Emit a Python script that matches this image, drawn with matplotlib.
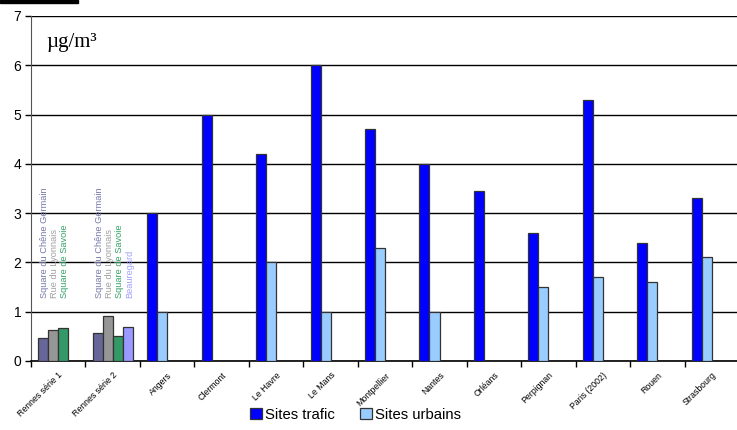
"""Grouped bar chart of mean concentrations, traffic vs urban sites, by city."""

import matplotlib

matplotlib.use("Agg")
import matplotlib.pyplot as plt  # noqa: E402
from matplotlib.patches import Rectangle  # noqa: E402
import numpy as np  # noqa: E402

plt.rcParams["font.family"] = ["Liberation Sans", "DejaVu Sans"]

categories = [
    "Rennes série 1", "Rennes série 2", "Angers", "Clermont", "Le Havre",
    "Le Mans", "Montpellier", "Nantes", "Orléans", "Perpignan",
    "Paris (2002)", "Rouen", "Strasbourg",
]

# Rennes stations (two measurement campaigns)
rennes_sites = ["Square du Chêne Germain", "Rue du Lyonnais",
                "Square de Savoie", "Beauregard"]
rennes_serie1 = [0.47, 0.63, 0.66, None]
rennes_serie2 = [0.56, 0.91, 0.51, 0.69]

# Other cities (first two categories are the Rennes campaigns)
trafic = [None, None, 3.0, 5.0, 4.2, 6.0, 4.7, 4.0, 3.45, 2.6, 5.3, 2.4, 3.3]
urbains = [None, None, 1.0, None, 2.0, 1.0, 2.3, 1.0, None, 1.5, 1.7, 1.6, 2.1]

site_colors = ["#666699", "#969696", "#339966", "#9999FF"]
label_colors = ["#7777AA", "#A0A0A0", "#33A066", "#A0A0FF"]
color_trafic = "#0000FF"
color_urbains = "#99CCFF"

width = 0.184
offsets = (np.arange(4) - 1.5) * width
edge = dict(edgecolor="#333333", linewidth=0.9)

fig = plt.figure(figsize=(7.37, 4.30), dpi=100)
ax = fig.add_axes([0.0421, 0.1605, 0.9607, 0.8023])

x = np.arange(len(categories))

for i, serie in enumerate([rennes_serie1, rennes_serie2]):
    for k, val in enumerate(serie):
        if val is None:
            continue
        ax.bar(x[i] + offsets[k], val, width, color=site_colors[k], zorder=3, **edge)
        ax.text(x[i] + offsets[k] + 0.03, 1.27, rennes_sites[k], rotation=90,
                ha="center", va="bottom", fontsize=6.7, color=label_colors[k],
                zorder=4)

for i in range(len(categories)):
    if trafic[i] is not None:
        ax.bar(x[i] + offsets[0], trafic[i], width, color=color_trafic,
               zorder=3, **edge)
    if urbains[i] is not None:
        ax.bar(x[i] + offsets[1], urbains[i], width, color=color_urbains,
               zorder=3, **edge)

ax.set_xlim(-0.5, len(categories) - 0.5)
ax.set_ylim(0, 7)
ax.set_yticks(range(8))
ax.yaxis.grid(True, color="black", linewidth=1.0, zorder=0)
ax.set_axisbelow(True)

# category boundaries carry the tick marks, names sit at the centres
ax.set_xticks(x - 0.5)
ax.set_xticklabels([])
ax.set_xticks(x, minor=True)
ax.set_xticklabels(categories, minor=True, rotation=45, ha="right",
                   rotation_mode="anchor", fontsize=6.3)
ax.tick_params(axis="x", which="minor", length=0, pad=7)
ax.tick_params(axis="x", which="major", length=4, direction="out",
               width=1.0)
ax.tick_params(axis="y", length=4, direction="out", labelsize=10, pad=3,
               width=1.0)

for side in ("top", "right"):
    ax.spines[side].set_visible(False)
ax.spines["left"].set_color("#555555")
ax.spines["bottom"].set_color("black")
ax.spines["bottom"].set_linewidth(1.2)

ax.text(-0.22, 6.47, "µg/m³", fontsize=15, family="Liberation Serif",
        ha="left", va="center")

handles = [Rectangle((0, 0), 1, 1, facecolor=color_trafic, **edge),
           Rectangle((0, 0), 1, 1, facecolor=color_urbains, **edge)]
fig.legend(handles, ["Sites trafic", "Sites urbains"], loc="lower center",
           bbox_to_anchor=(0.482, -0.012), ncol=2, frameon=False,
           fontsize=10.7, handlelength=0.8, handleheight=0.8,
           handletextpad=0.2, columnspacing=1.7)

fig.patches.append(Rectangle((0, 427 / 430), 78 / 737, 3 / 430,
                             transform=fig.transFigure, color="black"))

fig.savefig("out.png", dpi=100)
